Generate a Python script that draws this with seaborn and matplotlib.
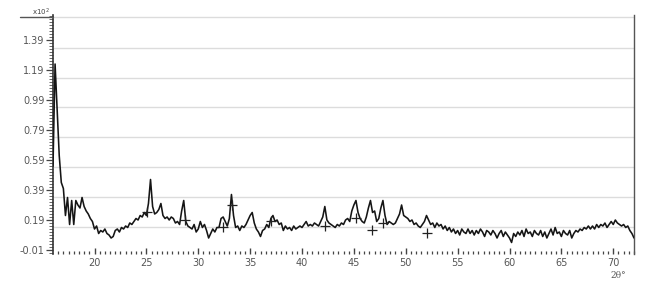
import numpy as np
import pandas as pd
import matplotlib
matplotlib.use("Agg")
import matplotlib.pyplot as plt
import seaborn as sns

# ---- data ----
two_theta_start = 16.0
two_theta_step = 0.2
intensity = [
    0.55, 1.23, 0.92, 0.62, 0.44,   # 16
    0.40, 0.22, 0.34, 0.16, 0.32,   # 17
    0.16, 0.32, 0.29, 0.27, 0.34,   # 18
    0.28, 0.25, 0.23, 0.20, 0.18,   # 19
    0.13, 0.15, 0.10, 0.12, 0.11,   # 20
    0.13, 0.10, 0.09, 0.07, 0.08,   # 21
    0.12, 0.13, 0.11, 0.14, 0.13,   # 22
    0.15, 0.14, 0.17, 0.16, 0.18,   # 23
    0.20, 0.19, 0.22, 0.21, 0.24,   # 24
    0.22, 0.30, 0.46, 0.28, 0.23,   # 25
    0.24, 0.26, 0.30, 0.22, 0.20,   # 26
    0.21, 0.19, 0.21, 0.20, 0.17,   # 27
    0.18, 0.16, 0.25, 0.32, 0.18,   # 28
    0.15, 0.14, 0.13, 0.16, 0.11,   # 29
    0.13, 0.18, 0.14, 0.16, 0.12,   # 30
    0.07, 0.10, 0.13, 0.11, 0.14,   # 31
    0.14, 0.20, 0.21, 0.18, 0.15,   # 32
    0.20, 0.36, 0.22, 0.14, 0.15,   # 33
    0.12, 0.15, 0.14, 0.16, 0.19,   # 34
    0.22, 0.24, 0.17, 0.13, 0.11,   # 35
    0.08, 0.12, 0.13, 0.16, 0.14,   # 36
    0.20, 0.22, 0.18, 0.19, 0.16,   # 37
    0.17, 0.12, 0.15, 0.13, 0.14,   # 38
    0.12, 0.15, 0.13, 0.14, 0.15,   # 39
    0.14, 0.16, 0.18, 0.15, 0.16,   # 40
    0.15, 0.17, 0.16, 0.15, 0.18,   # 41
    0.21, 0.28, 0.19, 0.17, 0.16,   # 42
    0.15, 0.14, 0.16, 0.15, 0.17,   # 43
    0.16, 0.19, 0.20, 0.18, 0.25,   # 44
    0.29, 0.32, 0.24, 0.20, 0.18,   # 45
    0.17, 0.21, 0.27, 0.32, 0.24,   # 46
    0.25, 0.18, 0.20, 0.27, 0.32,   # 47
    0.22, 0.16, 0.18, 0.17, 0.16,   # 48
    0.17, 0.20, 0.23, 0.29, 0.22,   # 49
    0.21, 0.20, 0.18, 0.19, 0.16,   # 50
    0.17, 0.15, 0.14, 0.16, 0.18,   # 51
    0.22, 0.19, 0.16, 0.17, 0.14,   # 52
    0.17, 0.15, 0.16, 0.13, 0.15,   # 53
    0.12, 0.14, 0.11, 0.13, 0.10,   # 54
    0.12, 0.09, 0.13, 0.11, 0.10,   # 55
    0.13, 0.10, 0.12, 0.09, 0.12,   # 56
    0.10, 0.13, 0.11, 0.08, 0.12,   # 57
    0.11, 0.09, 0.12, 0.10, 0.07,   # 58
    0.10, 0.12, 0.08, 0.11, 0.09,   # 59
    0.07, 0.04, 0.10, 0.08, 0.11,   # 60
    0.09, 0.12, 0.08, 0.13, 0.10,   # 61
    0.11, 0.08, 0.12, 0.10, 0.09,   # 62
    0.12, 0.08, 0.11, 0.07, 0.10,   # 63
    0.13, 0.09, 0.14, 0.10, 0.11,   # 64
    0.08, 0.12, 0.10, 0.09, 0.12,   # 65
    0.07, 0.10, 0.12, 0.11, 0.13,   # 66
    0.12, 0.14, 0.13, 0.15, 0.13,   # 67
    0.15, 0.13, 0.16, 0.14, 0.16,   # 68
    0.15, 0.17, 0.14, 0.16, 0.18,   # 69
    0.16, 0.19, 0.17, 0.16, 0.15,   # 70
    0.16, 0.14, 0.15, 0.12, 0.10,   # 71
    0.07,                           # 72
]
marker_pos = [25.1, 28.7, 32.4, 33.3, 37.0, 42.2, 45.2, 46.7, 47.8, 52.0]
marker_val = [0.24, 0.19, 0.14, 0.29, 0.18, 0.15, 0.20, 0.12, 0.17, 0.10]
ytick_vals = [-0.01, 0.19, 0.39, 0.59, 0.79, 0.99, 1.19, 1.39]
ytick_labels = ["-0.01", "0.19", "0.39", "0.59", "0.79", "0.99", "1.19", "1.39"]
grid_vals = [0.143, 0.343, 0.543, 0.743, 0.943, 1.14, 1.337, 1.543]
xtick_vals = [20, 25, 30, 35, 40, 45, 50, 55, 60, 65, 70]

two_theta = two_theta_start + two_theta_step * np.arange(len(intensity))
df = pd.DataFrame({"two_theta": two_theta, "intensity": intensity})
mk = pd.DataFrame({"two_theta": marker_pos, "intensity": marker_val})

sns.set_theme(style="white")
plt.rcParams["font.family"] = ["DejaVu Sans"]

fig = plt.figure(figsize=(6.58, 2.82), dpi=100)
ax = fig.add_axes([53 / 658, 1 - 254 / 282, (634 - 53) / 658, (254 - 15) / 282])

for g in grid_vals:
    ax.axhline(g, color="#dcdcdc", lw=1.0, zorder=0)

sns.lineplot(data=df, x="two_theta", y="intensity", ax=ax, color="#151515",
             lw=1.15, estimator=None, sort=False, zorder=3)
sns.scatterplot(data=mk, x="two_theta", y="intensity", ax=ax, marker="+",
                s=45, color="#222222", linewidth=0.9, zorder=4)

ax.set_xlim(16.0, 72.0)
ax.set_ylim(-0.0367, 1.5567)
ax.set_xlabel("")
ax.set_ylabel("")

ax.set_xticks(xtick_vals)
ax.set_xticklabels([str(v) for v in xtick_vals])
ax.set_xticks(np.arange(16.5, 72.01, 0.5), minor=True)
ax.set_yticks(ytick_vals)
ax.set_yticklabels(ytick_labels)
ax.set_yticks(np.arange(-0.03, 1.56, 0.02), minor=True)

ax.tick_params(axis="x", which="major", direction="in", length=4, width=1.0,
               colors="#444444", labelsize=7, pad=3, bottom=True, top=False)
ax.tick_params(axis="x", which="minor", direction="in", length=2.5, width=0.9,
               color="#444444", bottom=True, top=False)
ax.tick_params(axis="y", which="major", direction="out", length=5, width=0.9,
               colors="#444444", labelsize=7, pad=1, left=True)
ax.tick_params(axis="y", which="minor", direction="out", length=3, width=0.7,
               color="#666666", left=True)
for lab in ax.get_xticklabels() + ax.get_yticklabels():
    lab.set_color("#555555")

ax.spines["top"].set_visible(False)
ax.spines["bottom"].set_visible(False)
ax.spines["left"].set_color("#333333")
ax.spines["left"].set_linewidth(1.2)
ax.spines["right"].set_color("#555555")
ax.spines["right"].set_linewidth(1.0)

# top-left scale note and its underline
fig.add_artist(plt.Line2D([20 / 658, 53 / 658], [1 - 17 / 282, 1 - 17 / 282],
                          color="#555555", lw=1.0, transform=fig.transFigure))
fig.text(32 / 658, 1 - 12 / 282, "x10$^2$", fontsize=5, color="#444444",
         ha="left", va="center")
fig.text(618 / 658, 1 - 276 / 282, "2θ°", fontsize=6.5, color="#555555",
         ha="center", va="center", family=["DejaVu Serif"])

fig.savefig("out.png", dpi=100)
